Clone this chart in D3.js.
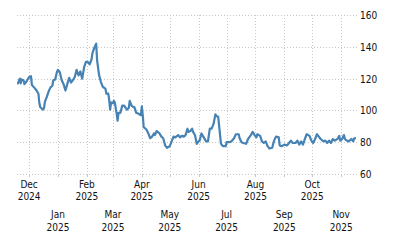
<!DOCTYPE html>
<html>
<head>
<meta charset="utf-8">
<script src="https://cdn.jsdelivr.net/npm/d3@7"></script>
<style>
  html, body { margin: 0; padding: 0; background: #fff; }
  svg { display: block; }
</style>
</head>
<body>
<svg id="chart"></svg>
<script>
const dates = [
  "2024-11-18","2024-11-19","2024-11-21","2024-11-22","2024-11-23","2024-11-25","2024-11-26","2024-11-28",
  "2024-12-01","2024-12-03","2024-12-04","2024-12-07","2024-12-09","2024-12-11","2024-12-12","2024-12-13",
  "2024-12-16","2024-12-17","2024-12-18","2024-12-20","2024-12-22","2024-12-24","2024-12-26","2024-12-27",
  "2024-12-29","2024-12-31","2025-01-01","2025-01-03","2025-01-05","2025-01-07","2025-01-09","2025-01-11",
  "2025-01-13","2025-01-15","2025-01-17","2025-01-19","2025-01-21","2025-01-23","2025-01-25","2025-01-27",
  "2025-01-29","2025-01-31","2025-02-02","2025-02-04","2025-02-06","2025-02-07","2025-02-09","2025-02-11",
  "2025-02-12","2025-02-14","2025-02-16","2025-02-18","2025-02-21","2025-02-22","2025-02-24","2025-02-25",
  "2025-02-26","2025-02-27","2025-03-01","2025-03-02","2025-03-03","2025-03-05","2025-03-06","2025-03-07",
  "2025-03-09","2025-03-11","2025-03-13","2025-03-16","2025-03-18","2025-03-19","2025-03-21","2025-03-23",
  "2025-03-24","2025-03-26","2025-03-28","2025-03-31","2025-04-01","2025-04-02","2025-04-03","2025-04-06",
  "2025-04-08","2025-04-10","2025-04-12","2025-04-14","2025-04-15","2025-04-17","2025-04-20","2025-04-22",
  "2025-04-24","2025-04-26","2025-04-28","2025-05-01","2025-05-03","2025-05-05","2025-05-07","2025-05-10",
  "2025-05-12","2025-05-14","2025-05-16","2025-05-18","2025-05-20","2025-05-21","2025-05-23","2025-05-25",
  "2025-05-26","2025-05-28","2025-05-30","2025-06-01","2025-06-02","2025-06-04","2025-06-06","2025-06-09",
  "2025-06-11","2025-06-13","2025-06-15","2025-06-17","2025-06-19","2025-06-20","2025-06-22","2025-06-24",
  "2025-06-25","2025-06-27","2025-06-30","2025-07-01","2025-07-04","2025-07-06","2025-07-09","2025-07-11",
  "2025-07-14","2025-07-15","2025-07-17","2025-07-19","2025-07-22","2025-07-24","2025-07-27","2025-07-29",
  "2025-07-31","2025-08-02","2025-08-03","2025-08-06","2025-08-08","2025-08-10","2025-08-12","2025-08-14",
  "2025-08-16","2025-08-19","2025-08-21","2025-08-23","2025-08-26","2025-08-27","2025-08-29","2025-09-01",
  "2025-09-04","2025-09-06","2025-09-08","2025-09-10","2025-09-13","2025-09-15","2025-09-17","2025-09-19",
  "2025-09-21","2025-09-23","2025-09-25","2025-09-28","2025-09-30","2025-10-02","2025-10-04","2025-10-06",
  "2025-10-08","2025-10-10","2025-10-13","2025-10-15","2025-10-17","2025-10-19","2025-10-21","2025-10-23",
  "2025-10-25","2025-10-28","2025-10-30","2025-10-31","2025-11-02","2025-11-04","2025-11-05","2025-11-07",
  "2025-11-09","2025-11-12","2025-11-14","2025-11-15","2025-11-17"
];
const values = [
  117,117,120,117,119.5,119,116.5,118,
  121,121.5,116,114,112.5,110.5,104.5,102,
  100.5,101.5,105.5,108.5,112,114.5,115.5,119,
  119.5,124.5,125.5,124,119,116.5,112.5,116.5,
  120.5,117.5,119,121,125.5,122,124.5,120,
  127,130.5,130.5,129,132,136,139.5,142,
  131.5,122.5,118,115,113.5,110.5,110.5,106.5,
  100.5,105,104.5,106,105,98,93.5,98.5,
  98.5,103,103,100.5,101.5,106,103,102,
  102,98.5,98,97,102.5,97,89.5,88,
  85.5,82.5,83.5,85.5,84.5,87,85.5,83.5,
  82.5,78,76.5,77.5,80.5,83.5,83,84.5,
  83,84,83.5,84.5,88.5,86.5,87,88.5,
  86.5,84.5,79,80.5,81,85.5,83.5,80.5,
  80.5,88.5,88.5,91.5,97.5,96.5,96,84.5,
  79,77.5,77.5,80,80,80.5,82.5,85,
  85,82.5,80,79.5,79,82,84.5,86.5,
  84.5,83,85,84,80.5,79.5,80.5,77.5,
  76,76.5,81,83.5,83,78,77.5,78.5,
  78,79.5,81,79.5,79.5,81,78.5,80.5,
  78.5,82,85,84,81,79.5,82,85,
  83.5,82,80.5,81,79.5,81,79.5,82,
  81,82,84,81,82,84.5,82,81,
  80.5,82,80.5,82.5,82.5
];
const yTicks = [60, 80, 100, 120, 140, 160];
const monthTicks = [
  "2024-12-01","2025-01-01","2025-02-01","2025-03-01","2025-04-01","2025-05-01",
  "2025-06-01","2025-07-01","2025-08-01","2025-09-01","2025-10-01","2025-11-01"
];

const width = 400, height = 250;
const parse = d3.timeParse("%Y-%m-%d");
const data = dates.map((d, i) => ({ date: parse(d), value: values[i] }));

const svg = d3.select("#chart").attr("width", width).attr("height", height);

const x = d3.scaleTime()
  .domain([parse("2024-11-18"), parse("2025-11-18")])
  .range([17, 357]);
const y = d3.scaleLinear().domain([60, 160]).range([174, 15]);

const font = "'DejaVu Sans Condensed', 'DejaVu Sans', sans-serif";
const fontSize = "10px";

// horizontal grid + right labels
const yAxis = d3.axisRight(y)
  .tickValues(yTicks)
  .tickSize(x.range()[1] - x.range()[0] + 1)
  .tickFormat(d3.format("d"));
svg.append("g")
  .attr("transform", `translate(${x.range()[0]},0)`)
  .call(yAxis)
  .call(g => g.select(".domain").remove())
  .call(g => g.selectAll("line")
    .attr("stroke", "#c8c8c8")
    .attr("stroke-dasharray", "1,2")
    .attr("shape-rendering", "crispEdges"))
  .call(g => g.selectAll("text")
    .attr("x", x.range()[1] - x.range()[0] + 3)
    .attr("dy", "0.35em")
    .attr("fill", "#111")
    .style("font-family", font)
    .style("font-size", fontSize));

// vertical grid
const ticks = monthTicks.map(parse);
svg.append("g").selectAll("line")
  .data(ticks)
  .join("line")
  .attr("x1", d => Math.round(x(d)) + 0.5)
  .attr("x2", d => Math.round(x(d)) + 0.5)
  .attr("y1", y(160))
  .attr("y2", y(60))
  .attr("stroke", "#c8c8c8")
  .attr("stroke-dasharray", "1,2");

// small tick marks under the axis
svg.append("g").selectAll("line")
  .data(ticks)
  .join("line")
  .attr("x1", d => Math.round(x(d)) + 0.5)
  .attr("x2", d => Math.round(x(d)) + 0.5)
  .attr("y1", y(60))
  .attr("y2", y(60) + 3)
  .attr("stroke", "#c8c8c8");

// month labels in two staggered rows
const fmtMon = d3.timeFormat("%b");
const fmtYear = d3.timeFormat("%Y");
const lbl = svg.append("g")
  .style("font-family", font)
  .style("font-size", fontSize)
  .attr("fill", "#111")
  .attr("text-anchor", "middle");
ticks.forEach((d, i) => {
  const base = i % 2 === 0 ? 187.5 : 218;
  const t = lbl.append("text").attr("x", x(d)).attr("y", base);
  t.append("tspan").attr("x", x(d)).text(fmtMon(d));
  t.append("tspan").attr("x", x(d)).attr("dy", 12.8).text(fmtYear(d));
});

// the line
const line = d3.line()
  .x(d => x(d.date))
  .y(d => y(d.value));
svg.append("path")
  .datum(data)
  .attr("fill", "none")
  .attr("stroke", "#4682b4")
  .attr("stroke-width", 2.2)
  .attr("stroke-linejoin", "round")
  .attr("d", line);
</script>
</body>
</html>
